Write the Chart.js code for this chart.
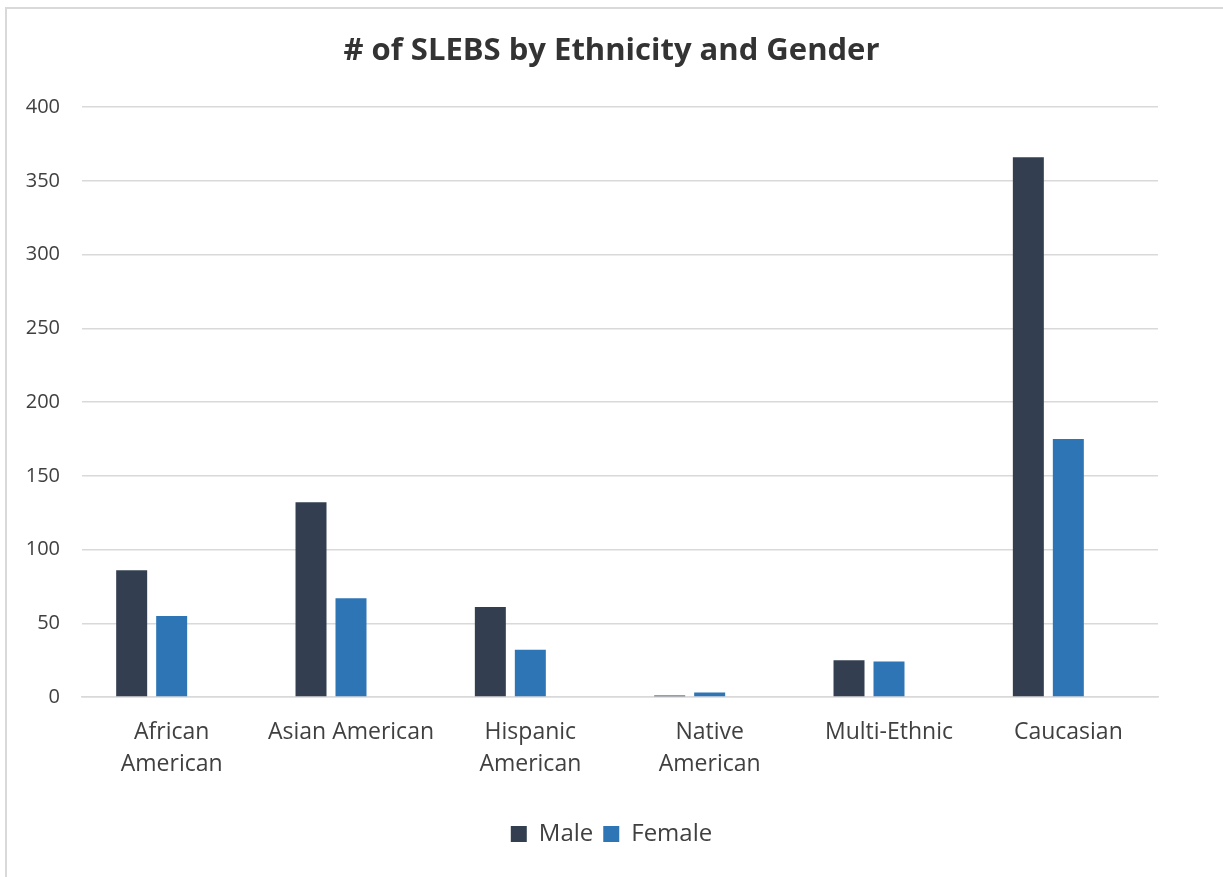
<!DOCTYPE html>
<html>
<head>
<meta charset="utf-8">
<script src="https://cdn.jsdelivr.net/npm/chart.js@4"></script>
<style>
html,body{margin:0;padding:0;background:#fff;overflow:hidden}
#frame{position:absolute;left:5px;top:7px;width:1400px;height:1000px;border-top:2px solid #d9d9d9;border-left:2px solid #d9d9d9}
#wrap{position:absolute;left:0;top:0;width:1223px;height:877px}
</style>
</head>
<body>
<div id="frame"></div>
<div id="wrap"><canvas id="chart"></canvas></div>
<script>
let categories=[["African","American"],"Asian American",["Hispanic","American"],["Native","American"],"Multi-Ethnic","Caucasian"]
let male=[86,132,61,1,25,366]
let female=[55,67,32,3,24,175]
// third, empty series in the source workbook: keeps the bar slots off-centre like the original
let blank=[null,null,null,null,null,null]
let yTicks={min:0,max:400,step:50}

let font="'Open Sans', 'Liberation Sans', sans-serif"

let ctx=document.getElementById("chart")

new Chart(ctx,{
type:"bar",
data:{
labels:categories,
datasets:[
{label:"Male",data:male,backgroundColor:"#333f50"},
{label:"Female",data:female,backgroundColor:"#2e75b6"},
{label:"",data:blank,backgroundColor:"rgba(0,0,0,0)"}
]
},
options:{
responsive:true,
maintainAspectRatio:false,
animation:false,
categoryPercentage:0.669,
barPercentage:0.775,
layout:{padding:{left:0,right:0,top:0,bottom:21}},
plugins:{
tooltip:{enabled:false},
title:{
display:true,
text:"# of SLEBS by Ethnicity and Gender",
color:"#333333",
font:{family:font,size:31,weight:"bold",lineHeight:1.2},
padding:{top:33,bottom:37}
},
legend:{
position:"bottom",
labels:{
color:"#404040",
font:{family:font,size:24},
boxWidth:16,
boxHeight:16,
padding:10,
filter:function(item){return item.text!==""}
}
}
},
scales:{
x:{
grid:{display:false,drawTicks:false},
border:{display:true,color:"#d9d9d9",width:1.5},
ticks:{
color:"#404040",
font:{family:font,size:23,lineHeight:1.4},
padding:19,
maxRotation:0,
autoSkip:false
},
afterFit:function(s){s.height=115}
},
y:{
min:yTicks.min,
max:yTicks.max,
grid:{color:"#d9d9d9",lineWidth:1.5,drawTicks:false},
border:{display:false},
ticks:{
stepSize:yTicks.step,
color:"#404040",
font:{family:font,size:20},
padding:22
},
afterFit:function(s){s.width=82}
},
// empty right-hand strip so the plot ends where the original does while the title stays centred on the page
yRight:{
position:"right",
display:true,
grid:{display:false,drawTicks:false},
border:{display:false},
ticks:{display:false},
afterFit:function(s){s.width=65}
}
}
}
})
</script>
</body>
</html>
